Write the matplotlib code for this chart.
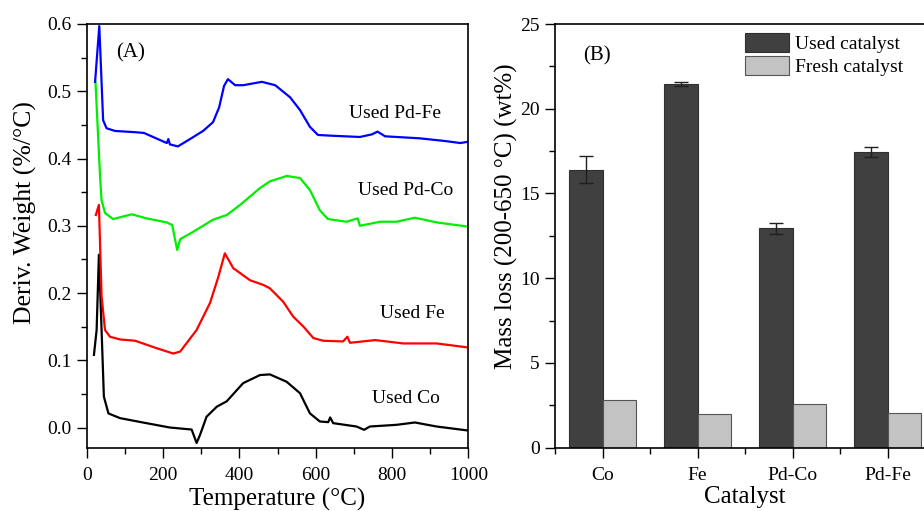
import numpy as np
import matplotlib
matplotlib.use("Agg")
import matplotlib.pyplot as plt
from matplotlib.ticker import MultipleLocator

plt.rcParams['font.family'] = ['Liberation Serif', 'DejaVu Serif']

# ---- panel A: DTG curves ----
pdfe_T = [22, 33, 43, 52, 74, 130, 150, 210, 214, 218, 239, 271, 305, 331, 347, 360, 370,
          389, 410, 459, 494, 533, 559, 585, 606, 638, 716, 748, 762, 782, 873, 939, 979, 1000]
pdfe_v = [0.514, 0.597, 0.457, 0.445, 0.441, 0.439, 0.438, 0.423, 0.429, 0.421, 0.418, 0.429,
          0.441, 0.454, 0.476, 0.508, 0.518, 0.509, 0.509, 0.514, 0.509, 0.491, 0.472, 0.447,
          0.435, 0.434, 0.432, 0.436, 0.440, 0.433, 0.430, 0.426, 0.423, 0.425]

pdco_T = [23, 35, 39, 48, 69, 118, 157, 210, 224, 237, 245, 279, 331, 367, 402, 454, 480,
          524, 559, 585, 611, 632, 681, 710, 716, 769, 812, 860, 917, 996]
pdco_v = [0.514, 0.373, 0.338, 0.319, 0.310, 0.317, 0.311, 0.305, 0.301, 0.264, 0.280, 0.291,
          0.309, 0.316, 0.331, 0.356, 0.366, 0.374, 0.371, 0.353, 0.323, 0.310, 0.306, 0.311,
          0.300, 0.306, 0.306, 0.312, 0.305, 0.299]

fe_T = [24, 32, 39, 48, 61, 87, 127, 183, 227, 245, 288, 323, 345, 362, 384, 428, 463, 480,
        515, 541, 568, 594, 620, 672, 683, 690, 756, 830, 917, 1000]
fe_v = [0.316, 0.331, 0.195, 0.145, 0.135, 0.131, 0.129, 0.118, 0.110, 0.113, 0.145, 0.185,
        0.224, 0.259, 0.237, 0.219, 0.212, 0.207, 0.187, 0.165, 0.150, 0.133, 0.129, 0.128,
        0.135, 0.126, 0.130, 0.125, 0.125, 0.119]

co_T = [19, 26, 32, 39, 45, 57, 87, 148, 218, 275, 288, 297, 314, 341, 367, 410, 454, 480,
        524, 559, 585, 611, 633, 638, 646, 707, 727, 742, 812, 860, 917, 1000]
co_v = [0.108, 0.145, 0.257, 0.145, 0.046, 0.021, 0.014, 0.0074, 0.0, -0.003, -0.023, -0.011,
        0.016, 0.031, 0.039, 0.066, 0.078, 0.079, 0.068, 0.051, 0.021, 0.009, 0.008, 0.015,
        0.0065, 0.0015, -0.0034, 0.0015, 0.004, 0.0075, 0.0015, -0.0045]

# ---- panel B: mass loss bars ----
catalysts = ['Co', 'Fe', 'Pd-Co', 'Pd-Fe']
used = [16.4, 21.45, 12.95, 17.45]
used_err = [0.8, 0.1, 0.32, 0.28]
fresh = [2.81, 1.99, 2.59, 2.06]

fig = plt.figure(figsize=(9.24, 5.11), dpi=100)

axA = fig.add_axes([86.7 / 924, 63.3 / 511, 381.6 / 924, 423.7 / 511])
axA.plot(co_T, co_v, color='black', lw=1.6)
axA.plot(fe_T, fe_v, color='red', lw=1.6)
axA.plot(pdco_T, pdco_v, color='#00ee00', lw=1.6)
axA.plot(pdfe_T, pdfe_v, color='blue', lw=1.6)
axA.set_xlim(0, 1000)
axA.set_ylim(-0.03, 0.6)
axA.xaxis.set_major_locator(MultipleLocator(200))
axA.xaxis.set_minor_locator(MultipleLocator(100))
axA.yaxis.set_major_locator(MultipleLocator(0.1))
axA.yaxis.set_minor_locator(MultipleLocator(0.05))
axA.yaxis.set_major_formatter(matplotlib.ticker.FormatStrFormatter('%.1f'))
axA.set_xlabel('Temperature (°C)', fontsize=18)
axA.set_ylabel('Deriv. Weight (%/°C)', fontsize=18.5)
axA.xaxis.set_label_coords(0.5, -0.094)
axA.yaxis.set_label_coords(-0.131, 0.554)
axA.text(116, 0.557, '(A)', fontsize=15, ha='center', va='center')
axA.text(808, 0.467, 'Used Pd-Fe', fontsize=14, ha='center', va='center')
axA.text(837, 0.353, 'Used Pd-Co', fontsize=14, ha='center', va='center')
axA.text(853, 0.169, 'Used Fe', fontsize=14, ha='center', va='center')
axA.text(837, 0.043, 'Used Co', fontsize=14, ha='center', va='center')

axB = fig.add_axes([555 / 924, 63.3 / 511, 380 / 924, 423.7 / 511])
x = np.arange(len(catalysts))
w = 0.355
axB.bar(x - w / 2, used, w, color='#404040', edgecolor='#303030', lw=0.8,
        yerr=used_err, capsize=5, error_kw=dict(ecolor='#202020', elinewidth=1.0, capthick=1.0),
        label='Used catalyst')
axB.bar(x + w / 2, fresh, w, color='#c3c3c3', edgecolor='#555555', lw=0.8,
        label='Fresh catalyst')
axB.set_xlim(-0.5, 3.5)
axB.set_ylim(0, 25)
axB.set_xticks(x)
axB.set_xticklabels(catalysts)
axB.set_xticks([-0.5, 0.5, 1.5, 2.5], minor=True)
axB.yaxis.set_major_locator(MultipleLocator(5))
axB.yaxis.set_minor_locator(MultipleLocator(2.5))
axB.set_xlabel('Catalyst', fontsize=18)
axB.set_ylabel('Mass loss (200-650 °C) (wt%)', fontsize=18)
axB.xaxis.set_label_coords(0.5, -0.09)
axB.yaxis.set_label_coords(-0.097, 0.546)
axB.text(-0.06, 23.1, '(B)', fontsize=15, ha='center', va='center')
fig.legend(loc='upper left', bbox_to_anchor=(735 / 924, 1 - 23 / 511), frameon=False,
           fontsize=14, handlelength=2.3, handleheight=1.15, handletextpad=0.3,
           borderpad=0, labelspacing=0.15)

for ax in (axA, axB):
    ax.tick_params(which='both', direction='out', labelsize=14, width=1.0)
    ax.tick_params(which='major', length=7)
    ax.tick_params(which='minor', length=4)
    ax.tick_params(axis='x', which='major', pad=7)
    ax.tick_params(axis='y', which='major', pad=4)
    for s in ax.spines.values():
        s.set_linewidth(1.2)

fig.savefig('out.png', dpi=100)
